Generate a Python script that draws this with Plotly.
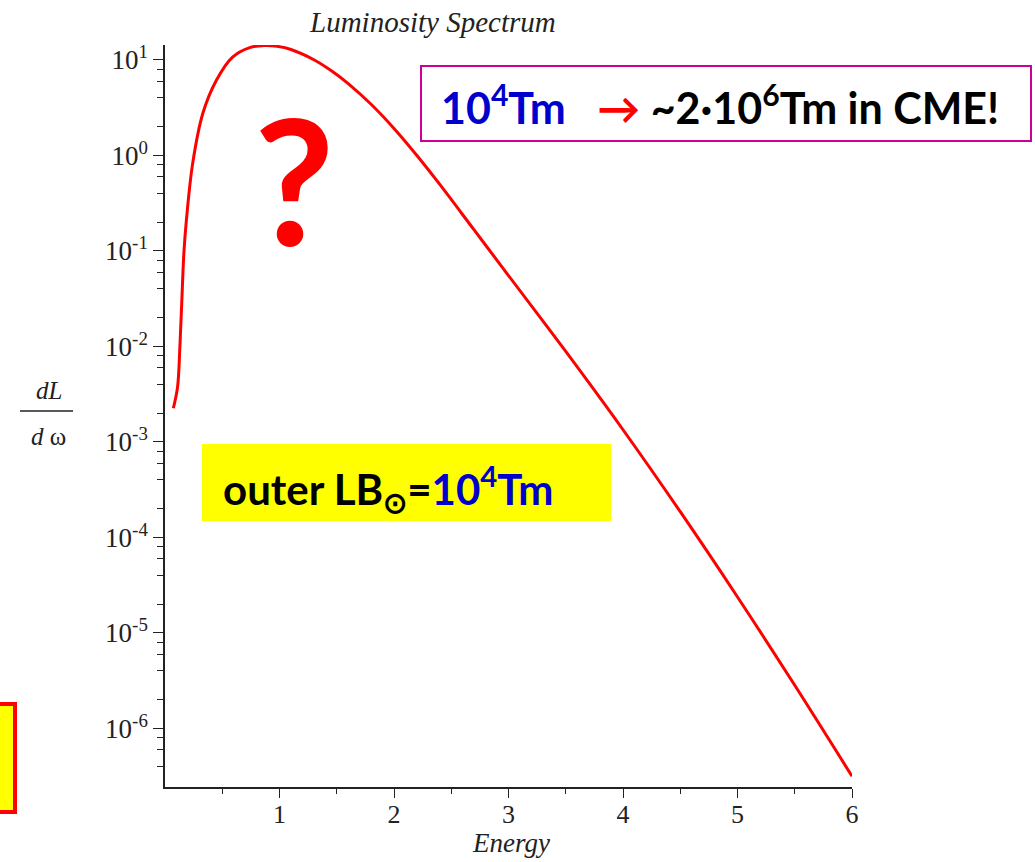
import plotly.graph_objects as go

# ---- data ----
energy = [0.073, 0.11, 0.13, 0.146, 0.165, 0.187, 0.242, 0.33, 0.45, 0.59, 0.74, 0.87,
          0.98, 1.1, 1.3, 1.45, 1.6, 1.8, 2.0, 2.2, 2.4, 2.7, 3.0, 3.5, 4.0, 4.5, 5.0, 5.5, 6.0]
log_dL = [-2.647, -2.42, -2.0, -1.55, -1.02, -0.675, -0.08, 0.44, 0.79, 1.03, 1.13, 1.152,
          1.143, 1.11, 1.003, 0.89, 0.753, 0.536, 0.283, 0.0, -0.303, -0.78, -1.257,
          -2.052, -2.872, -3.73, -4.623, -5.548, -6.50]
dL_domega = [10 ** v for v in log_dL]

y_tickvals = [1e1, 1e0, 1e-1, 1e-2, 1e-3, 1e-4, 1e-5, 1e-6]
y_ticktext = ["10<sup>1</sup>", "10<sup>0</sup>", "10<sup>-1</sup>", "10<sup>-2</sup>",
              "10<sup>-3</sup>", "10<sup>-4</sup>", "10<sup>-5</sup>", "10<sup>-6</sup>"]
y_minor = [m * 10.0 ** k for k in range(-7, 2) for m in (2, 4, 6, 8)]
x_tickvals = [1, 2, 3, 4, 5, 6]
x_minor = [0.5, 1.5, 2.5, 3.5, 4.5, 5.5]

W, H = 1035, 862
L, R, T, B = 165, 852, 45, 787


def px(x):
    return (x - L) / (R - L)


def py(y):
    return (B - y) / (B - T)


fig = go.Figure()
fig.add_trace(go.Scatter(x=energy, y=dL_domega, mode="lines", cliponaxis=False,
                         line=dict(color="#ff0000", width=3, shape="spline", smoothing=1.0),
                         showlegend=False, hoverinfo="skip"))

serif = "Liberation Serif"
fig.update_layout(
    width=W, height=H,
    margin=dict(l=L, r=W - R, t=T, b=H - B, pad=0),
    paper_bgcolor="white", plot_bgcolor="white",
    showlegend=False,
    xaxis=dict(range=[0, 6], showgrid=False, zeroline=False, showline=True,
               linecolor="#222", linewidth=1.5, ticks="outside", ticklen=9, tickwidth=1.3,
               tickcolor="#222", tickvals=x_tickvals, ticktext=[str(v) for v in x_tickvals],
               tickfont=dict(family=serif, size=26, color="#222"), ticklabelstandoff=-6,
               minor=dict(tickvals=x_minor, ticks="outside", ticklen=5, tickwidth=1.3,
                          tickcolor="#222", showgrid=False)),
    yaxis=dict(type="log", range=[-6.613, 1.157], showgrid=False, zeroline=False, showline=True,
               linecolor="#222", linewidth=1.5, ticks="outside", ticklen=10, tickwidth=1.3,
               tickcolor="#222", tickvals=y_tickvals, ticktext=y_ticktext,
               tickfont=dict(family=serif, size=27, color="#222"),
               minor=dict(tickvals=y_minor, ticks="outside", ticklen=6, tickwidth=1.3,
                          tickcolor="#222", showgrid=False)),
)

shapes = []
# top-right bordered box
shapes.append(dict(type="rect", xref="paper", yref="paper",
                   x0=px(421), x1=px(1031), y0=py(141), y1=py(66),
                   line=dict(color="#cc0099", width=2), fillcolor="white", layer="above"))
# yellow box
shapes.append(dict(type="rect", xref="paper", yref="paper",
                   x0=px(202), x1=px(611), y0=py(521), y1=py(444),
                   line=dict(width=0), fillcolor="#ffff00", layer="above"))
# left-bottom yellow box with red border
shapes.append(dict(type="rect", xref="paper", yref="paper",
                   x0=px(-10), x1=px(15), y0=py(812), y1=py(704),
                   line=dict(color="#ff0000", width=4), fillcolor="#ffff00", layer="above"))
# fraction bar of the y label
shapes.append(dict(type="line", xref="paper", yref="paper",
                   x0=px(20), x1=px(73), y0=py(411), y1=py(411),
                   line=dict(color="#222", width=1.5)))
fig.update_layout(shapes=shapes)

ann = []
ann.append(dict(text="<i>Luminosity Spectrum</i>", xref="paper", yref="paper",
                x=px(432), y=py(22), xanchor="center", yanchor="middle", showarrow=False,
                font=dict(family=serif, size=29, color="#222")))
ann.append(dict(text="<i>Energy</i>", xref="paper", yref="paper",
                x=px(511), y=py(843), xanchor="center", yanchor="middle", showarrow=False,
                font=dict(family=serif, size=27, color="#222")))
ann.append(dict(text="<i>dL</i>", xref="paper", yref="paper",
                x=px(49), y=py(390), xanchor="center", yanchor="middle", showarrow=False,
                font=dict(family=serif, size=25, color="#222")))
ann.append(dict(text="<i>d</i> ω", xref="paper", yref="paper",
                x=px(48), y=py(436), xanchor="center", yanchor="middle", showarrow=False,
                font=dict(family=serif, size=25, color="#222")))
ann.append(dict(text="<b>?</b>", xref="paper", yref="paper",
                x=px(294), y=py(178), xanchor="center", yanchor="middle", showarrow=False,
                font=dict(family="Lato", size=175, color="#ff0000")))
ann.append(dict(text="<b><span style='color:#0000cc'>10<sup>4</sup>Tm</span>&nbsp;&nbsp;&nbsp;"
                     "<span style='color:#ff0000'>→</span> ~2·10<sup>6</sup>Tm in CME!</b>",
                xref="paper", yref="paper", x=px(439), y=py(104), xanchor="left",
                yanchor="middle", showarrow=False,
                font=dict(family="Lato", size=43, color="#000000")))
ann.append(dict(text="<b>outer LB<sub>⊙</sub>=<span style='color:#0000cc'>10<sup>4</sup>Tm</span></b>",
                xref="paper", yref="paper", x=px(221), y=py(488), xanchor="left",
                yanchor="middle", showarrow=False,
                font=dict(family="Lato", size=42, color="#000000")))
fig.update_layout(annotations=ann)

fig.write_html("out.html")
